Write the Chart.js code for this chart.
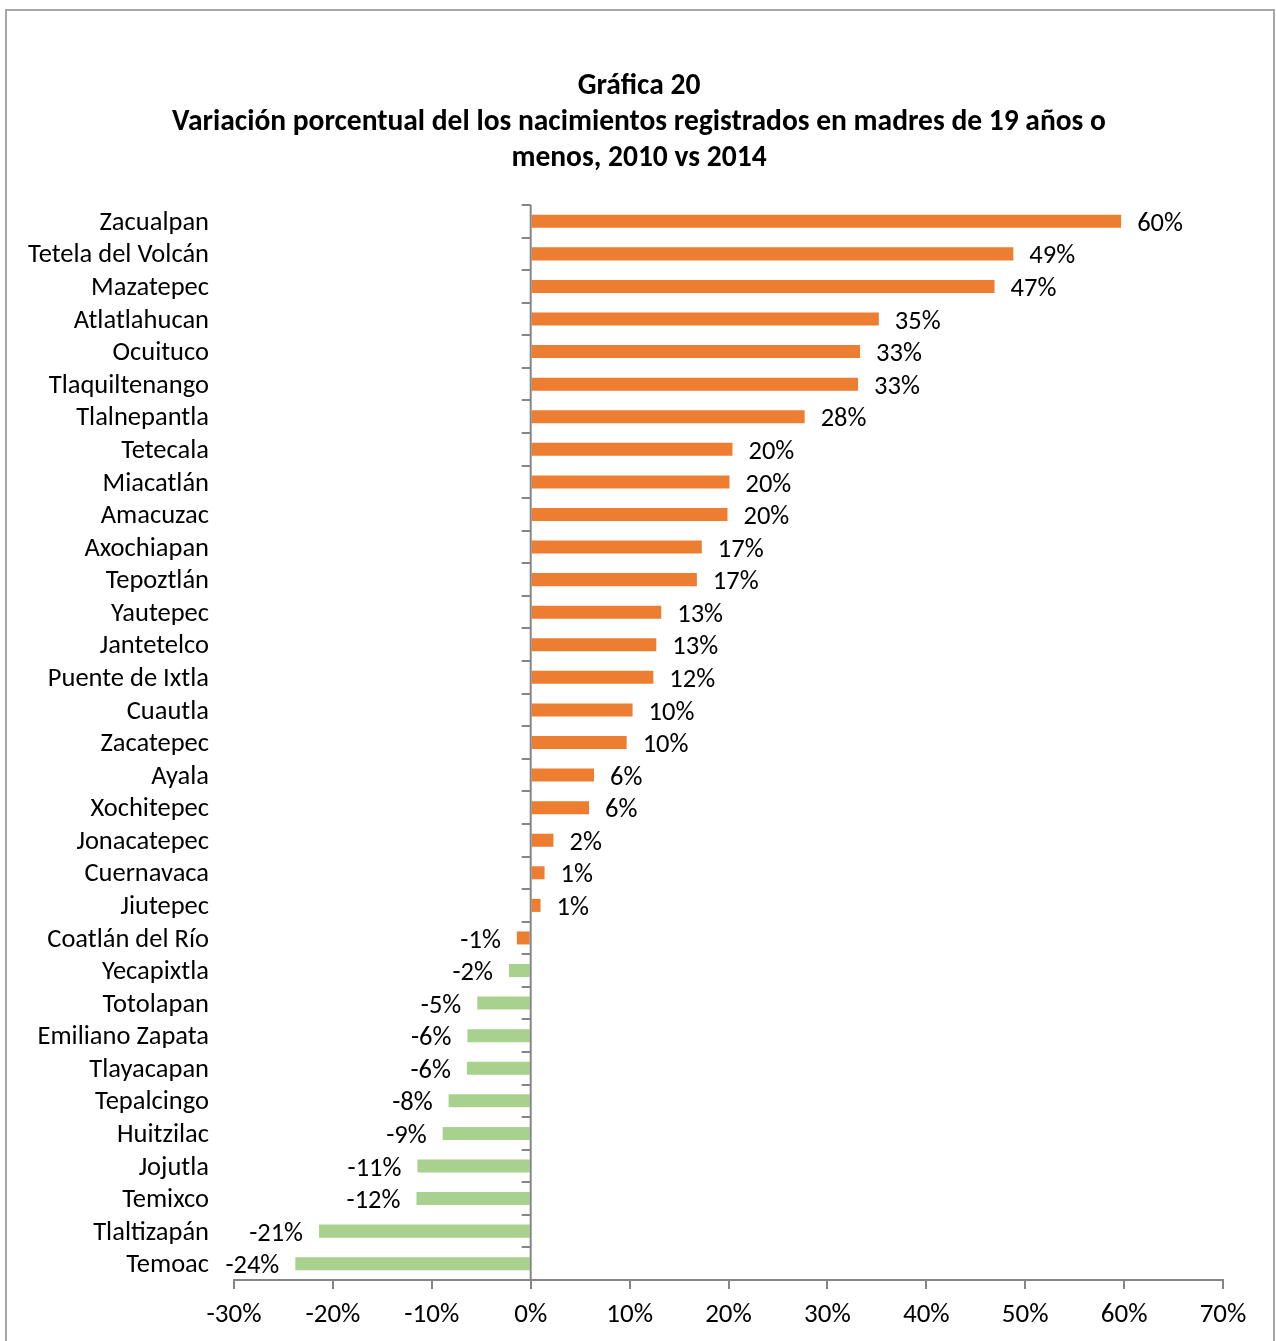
<!DOCTYPE html>
<html>
<head>
<meta charset="utf-8">
<script src="https://cdn.jsdelivr.net/npm/chart.js@4.4.1/dist/chart.umd.min.js"></script>
<style>
  html, body { margin: 0; padding: 0; background: #fff; }
  #wrap { width: 1276px; height: 1341px; position: relative; }
</style>
</head>
<body>
<div id="wrap"><canvas id="grafica"></canvas></div>
<script>
// Municipios (de arriba hacia abajo)
const municipios = ['Zacualpan', 'Tetela del Volcán', 'Mazatepec', 'Atlatlahucan', 'Ocuituco',
  'Tlaquiltenango', 'Tlalnepantla', 'Tetecala', 'Miacatlán', 'Amacuzac', 'Axochiapan', 'Tepoztlán',
  'Yautepec', 'Jantetelco', 'Puente de Ixtla', 'Cuautla', 'Zacatepec', 'Ayala', 'Xochitepec',
  'Jonacatepec', 'Cuernavaca', 'Jiutepec', 'Coatlán del Río', 'Yecapixtla', 'Totolapan',
  'Emiliano Zapata', 'Tlayacapan', 'Tepalcingo', 'Huitzilac', 'Jojutla', 'Temixco',
  'Tlaltizapán', 'Temoac'];

// Variacion porcentual 2010 vs 2014
const variacion = [59.7, 48.8, 46.9, 35.2, 33.3, 33.1, 27.7, 20.4, 20.1, 19.9, 17.3, 16.8,
  13.2, 12.7, 12.4, 10.3, 9.7, 6.4, 5.9, 2.3, 1.4, 1.0, -1.4, -2.2, -5.4, -6.4, -6.45,
  -8.3, -8.9, -11.45, -11.55, -21.4, -23.8];

// Los primeros municipios (hasta Coatlán del Río) van en naranja, el resto en verde
const nNaranja = 23;

// Ticks del eje X
const ejeMin = -30;
const ejeMax = 70;
const ejePaso = 10;

const titulo = ['Gráfica 20',
  'Variación porcentual del los nacimientos registrados en madres de 19 años o',
  'menos, 2010 vs 2014'];

const fuente = 'Carlito, Calibri, Lato, sans-serif';

// Marco gris alrededor de la grafica y titulo centrado en todo el ancho
const marco = {
  id: 'marco',
  beforeDraw(chart) {
    const c = chart.ctx;
    c.save();
    c.strokeStyle = '#a6a6a6';
    c.lineWidth = 2;
    c.strokeRect(6, 10, 1268, 1340);
    c.font = 'bold 29.5px ' + fuente;
    c.fillStyle = '#000';
    c.textAlign = 'center';
    c.textBaseline = 'middle';
    titulo.forEach((t, i) => c.fillText(t, chart.width / 2 + 1, 87 + i * 36));
    c.restore();
  }
};

// Linea del cero con sus marcas por categoria
const ejeCero = {
  id: 'ejeCero',
  afterDatasetsDraw(chart) {
    const c = chart.ctx;
    const x = chart.scales.x.getPixelForValue(0);
    const y = chart.scales.y;
    c.save();
    c.strokeStyle = '#868686';
    c.lineWidth = 2;
    c.beginPath();
    c.moveTo(x, chart.chartArea.top);
    c.lineTo(x, chart.chartArea.bottom);
    for (let i = 0; i < municipios.length; i++) {
      const yy = Math.round(y.getPixelForValue(i - 0.5));
      c.moveTo(x - 9, yy);
      c.lineTo(x, yy);
    }
    c.stroke();
    c.restore();
  }
};

// Etiquetas de datos
const etiquetas = {
  id: 'etiquetas',
  afterDatasetsDraw(chart) {
    const c = chart.ctx;
    const meta = chart.getDatasetMeta(0);
    c.save();
    c.font = '26.5px ' + fuente;
    c.fillStyle = '#000';
    c.textBaseline = 'middle';
    meta.data.forEach((bar, i) => {
      const v = variacion[i];
      const txt = Math.round(v) + '%';
      if (v >= 0) {
        c.textAlign = 'left';
        c.fillText(txt, bar.x + 16, bar.y + 3);
      } else {
        c.textAlign = 'right';
        c.fillText(txt, bar.x - 16, bar.y + 3);
      }
    });
    c.restore();
  }
};

const ctx = document.getElementById('grafica').getContext('2d');
const grafica = new Chart(ctx, {
  type: 'bar',
  data: {
    labels: municipios,
    datasets: [{
      data: variacion,
      backgroundColor: variacion.map((v, i) => i < nNaranja ? '#ED7D31' : '#A9D18E'),
      borderWidth: 0,
      categoryPercentage: 0.8,
      barPercentage: 0.5
    }]
  },
  options: {
    indexAxis: 'y',
    responsive: true,
    maintainAspectRatio: false,
    animation: false,
    layout: { padding: { top: 205, right: 53, bottom: 0, left: 0 } },
    plugins: {
      legend: { display: false },
      tooltip: { enabled: false },
      title: { display: false }
    },
    scales: {
      x: {
        min: ejeMin,
        max: ejeMax,
        ticks: {
          stepSize: ejePaso,
          color: '#000',
          font: { family: fuente, size: 27 },
          padding: 10,
          callback: v => v + '%'
        },
        grid: {
          drawOnChartArea: false,
          drawTicks: true,
          tickLength: 9,
          color: '#868686',
          lineWidth: 2
        },
        border: { display: true, color: '#868686', width: 2 },
        afterFit(s) { s.height = 61; }
      },
      y: {
        ticks: {
          color: '#000',
          font: { family: fuente, size: 26.5 },
          padding: 25,
          labelOffset: 2,
          autoSkip: false
        },
        grid: { display: false, drawTicks: false },
        border: { display: false },
        afterFit(s) { s.width = 234; }
      }
    }
  },
  plugins: [marco, ejeCero, etiquetas]
});
</script>
</body>
</html>
